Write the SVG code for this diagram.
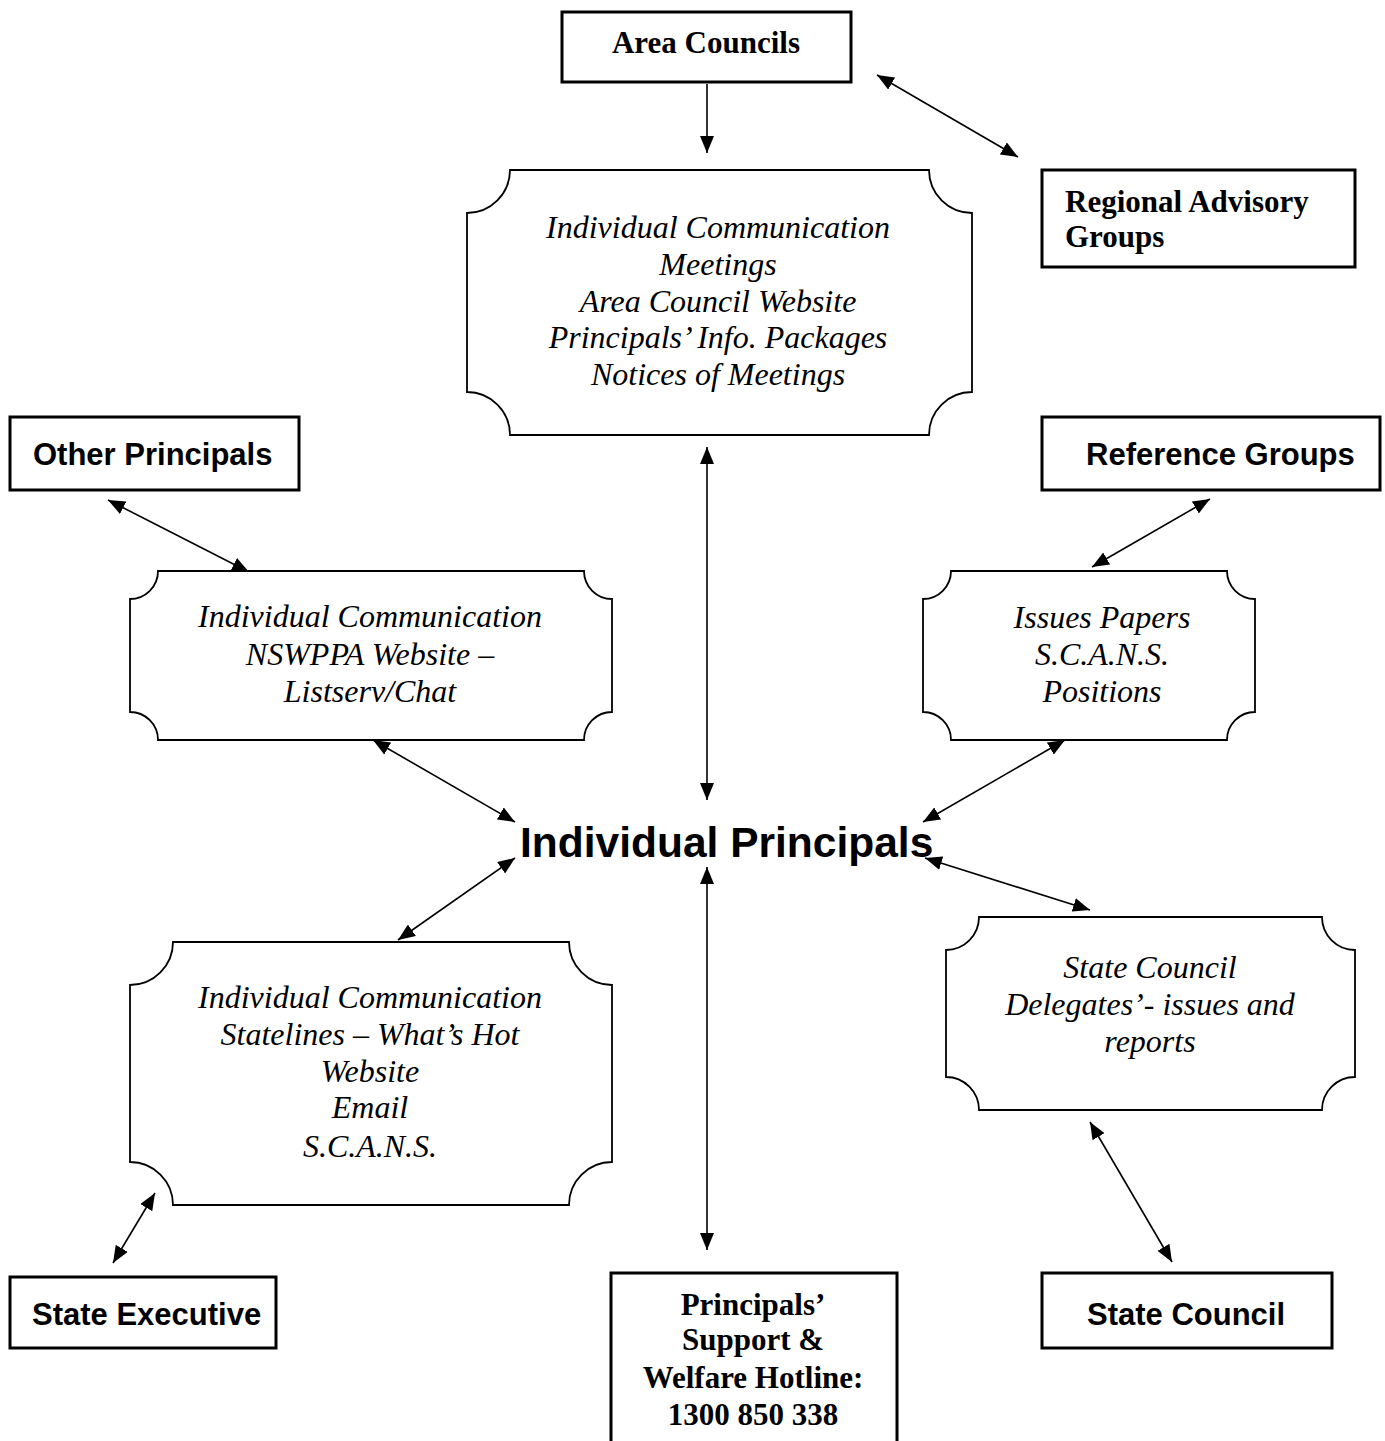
<svg xmlns="http://www.w3.org/2000/svg" width="1385" height="1441" viewBox="0 0 1385 1441">
<style>
.box{fill:#fff;stroke:#000;stroke-width:3}
.scroll{fill:#fff;stroke:#000;stroke-width:1.8}
.tb{font-family:"Liberation Serif","Times New Roman",serif;font-weight:bold;font-size:31px;fill:#000}
.ab{font-family:"Liberation Sans",Arial,sans-serif;font-weight:bold;font-size:31px;fill:#000}
.ti{font-family:"Liberation Serif","Times New Roman",serif;font-style:italic;font-size:32px;fill:#000;text-anchor:middle}
.big{font-family:"Liberation Sans",Arial,sans-serif;font-weight:bold;font-size:42.5px;fill:#000}
.c{text-anchor:middle}
.conn line{stroke:#000;stroke-width:1.6}
</style>
<defs>
<marker id="ah" markerUnits="userSpaceOnUse" markerWidth="17" markerHeight="14" viewBox="0 0 17 14" refX="17" refY="7" orient="auto-start-reverse">
<path d="M0,0 L17,7 L0,14 z" fill="#000"/>
</marker>
</defs>
<rect width="1385" height="1441" fill="#fff"/>

<g id="connectors" class="conn">
<line x1="707" y1="84" x2="707" y2="153" marker-end="url(#ah)"/>
<line x1="877" y1="75" x2="1018" y2="157" marker-start="url(#ah)" marker-end="url(#ah)"/>
<line x1="707" y1="447" x2="707" y2="800" marker-start="url(#ah)" marker-end="url(#ah)"/>
<line x1="108" y1="500" x2="249" y2="572" marker-start="url(#ah)" marker-end="url(#ah)"/>
<line x1="1210" y1="499" x2="1092" y2="567" marker-start="url(#ah)" marker-end="url(#ah)"/>
<line x1="373" y1="740" x2="515" y2="822" marker-start="url(#ah)" marker-end="url(#ah)"/>
<line x1="1065" y1="740" x2="923" y2="822" marker-start="url(#ah)" marker-end="url(#ah)"/>
<line x1="515" y1="858" x2="398" y2="940" marker-start="url(#ah)" marker-end="url(#ah)"/>
<line x1="707" y1="867" x2="707" y2="1250" marker-start="url(#ah)" marker-end="url(#ah)"/>
<line x1="925" y1="858" x2="1090" y2="910" marker-start="url(#ah)" marker-end="url(#ah)"/>
<line x1="155" y1="1193" x2="113" y2="1263" marker-start="url(#ah)" marker-end="url(#ah)"/>
<line x1="1090" y1="1122" x2="1172" y2="1262" marker-start="url(#ah)" marker-end="url(#ah)"/>
</g>

<g id="area-councils">
<rect class="box" x="562" y="12" width="289" height="70"/>
<text class="tb c" x="706" y="53">Area Councils</text>
</g>

<g id="regional-advisory">
<rect class="box" x="1042" y="170" width="313" height="97"/>
<text class="tb" x="1065" y="212">Regional Advisory</text>
<text class="tb" x="1065" y="247">Groups</text>
</g>

<g id="area-comm">
<path class="scroll" d="M510,170 H929 A43,43 0 0 0 972,213 V392 A43,43 0 0 0 929,435 H510 A43,43 0 0 0 467,392 V213 A43,43 0 0 0 510,170 Z"/>
<text class="ti" x="718" y="238">Individual Communication</text>
<text class="ti" x="718" y="275">Meetings</text>
<text class="ti" x="718" y="312">Area Council Website</text>
<text class="ti" x="718" y="348">Principals’ Info. Packages</text>
<text class="ti" x="718" y="385">Notices of Meetings</text>
</g>

<g id="other-principals">
<rect class="box" x="10" y="417" width="289" height="73"/>
<text class="ab" x="33" y="465">Other Principals</text>
</g>

<g id="reference-groups">
<rect class="box" x="1042" y="417" width="338" height="73"/>
<text class="ab" x="1086" y="465">Reference Groups</text>
</g>

<g id="nswppa-comm">
<path class="scroll" d="M158,571 H584 A28,28 0 0 0 612,599 V712 A28,28 0 0 0 584,740 H158 A28,28 0 0 0 130,712 V599 A28,28 0 0 0 158,571 Z"/>
<text class="ti" x="370" y="627">Individual Communication</text>
<text class="ti" x="370" y="665">NSWPPA Website –</text>
<text class="ti" x="370" y="702">Listserv/Chat</text>
</g>

<g id="issues-papers">
<path class="scroll" d="M951,571 H1227 A28,28 0 0 0 1255,599 V712 A28,28 0 0 0 1227,740 H951 A28,28 0 0 0 923,712 V599 A28,28 0 0 0 951,571 Z"/>
<text class="ti" x="1102" y="628">Issues Papers</text>
<text class="ti" x="1102" y="665">S.C.A.N.S.</text>
<text class="ti" x="1102" y="702">Positions</text>
</g>

<g id="individual-principals">
<text class="big" x="520" y="857">Individual Principals</text>
</g>

<g id="state-comm">
<path class="scroll" d="M173,942 H569 A43,43 0 0 0 612,985 V1162 A43,43 0 0 0 569,1205 H173 A43,43 0 0 0 130,1162 V985 A43,43 0 0 0 173,942 Z"/>
<text class="ti" x="370" y="1008">Individual Communication</text>
<text class="ti" x="370" y="1045">Statelines – What’s Hot</text>
<text class="ti" x="370" y="1082">Website</text>
<text class="ti" x="370" y="1118">Email</text>
<text class="ti" x="370" y="1157">S.C.A.N.S.</text>
</g>

<g id="state-council-delegates">
<path class="scroll" d="M979,917 H1322 A33,33 0 0 0 1355,950 V1077 A33,33 0 0 0 1322,1110 H979 A33,33 0 0 0 946,1077 V950 A33,33 0 0 0 979,917 Z"/>
<text class="ti" x="1150" y="978">State Council</text>
<text class="ti" x="1150" y="1015">Delegates’- issues and</text>
<text class="ti" x="1150" y="1052">reports</text>
</g>

<g id="state-executive">
<rect class="box" x="10" y="1277" width="266" height="71"/>
<text class="ab" x="32" y="1325">State Executive</text>
</g>

<g id="hotline">
<rect class="box" x="611" y="1273" width="286" height="180"/>
<text class="tb c" x="753" y="1315">Principals’</text>
<text class="tb c" x="753" y="1350">Support &amp;</text>
<text class="tb c" x="753" y="1388">Welfare Hotline:</text>
<text class="tb c" x="753" y="1425">1300 850 338</text>
</g>

<g id="state-council">
<rect class="box" x="1042" y="1273" width="290" height="75"/>
<text class="ab" x="1087" y="1325">State Council</text>
</g>
</svg>
